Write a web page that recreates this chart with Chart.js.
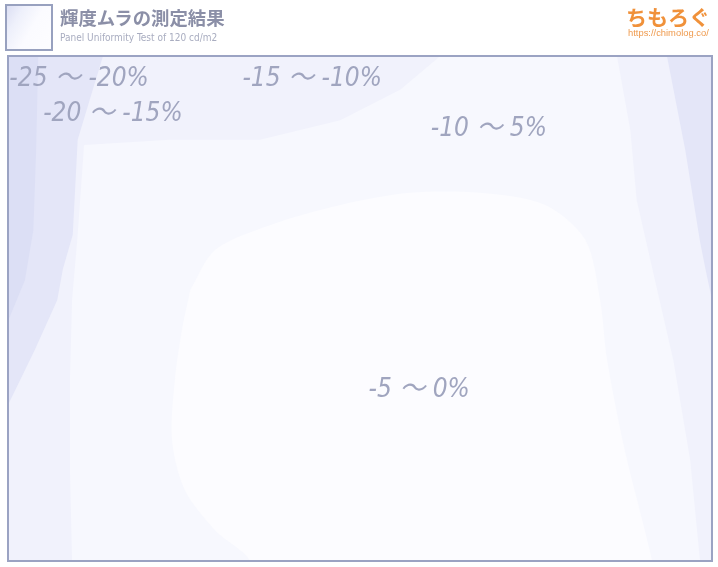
<!DOCTYPE html>
<html>
<head>
<meta charset="utf-8">
<script src="https://cdn.jsdelivr.net/npm/chart.js@4.4.1/dist/chart.umd.min.js"></script>
<style>
  html,body{margin:0;padding:0;background:#fff;}
  #wrap{position:relative;width:718px;height:567px;overflow:hidden;}
  #cv{position:absolute;left:0;top:0;}
  #icon{position:absolute;left:5px;top:4px;width:44px;height:43px;border:2px solid #98a1bf;
    background:linear-gradient(120deg,#dcdff3 0%,#eef0fb 25%,#fbfbff 55%,#fdfdff 100%);}
  #title{position:absolute;left:60px;top:5px;font-family:"Noto Sans CJK JP","Noto Sans",sans-serif;
    font-weight:bold;font-size:18.4px;color:#8b8fa7;line-height:24px;}
  #sub{position:absolute;left:60px;top:31px;font-family:"Liberation Sans Narrow","DejaVu Sans Condensed",sans-serif;
    font-size:10px;color:#a9adc0;line-height:14px;}
  #logo{position:absolute;left:626px;top:3px;font-family:"Noto Sans CJK JP",sans-serif;font-weight:bold;
    font-size:21px;color:#f0913a;line-height:26px;}
  #url{position:absolute;left:628px;top:28px;font-family:"Liberation Sans","DejaVu Sans",sans-serif;
    font-size:9.4px;color:#ef9a4d;line-height:10px;}
</style>
</head>
<body>
<div id="wrap">
  <canvas id="cv" width="718" height="567"></canvas>
  <div id="icon"></div>
  <div id="title">輝度ムラの測定結果</div>
  <div id="sub">Panel Uniformity Test of 120 cd/m2</div>
  <div id="logo">ちもろぐ</div>
  <div id="url">https://chimolog.co/</div>
</div>
<script>
// Contour regions of luminance deviation, in percent of panel width (x) and height (y, top = 0)
const levelNames = ["-25 ～ -20%", "-20 ～ -15%", "-15 ～ -10%", "-10 ～ 5%", "-5 ～ 0%"];
const levelColors = ["#dcdff5", "#e4e6f8", "#f1f2fc", "#f7f8fe", "#fcfcff"];

const regionBase = [[0,0],[100,0],[100,100],[0,100],[0,0]]; // -15 ~ -10%
const regionLow10 = [[10.8,17.6],[23.0,16.6],[35.8,16.6],[47.2,12.7],[55.7,6.7],[61.4,0],[86.5,0],[88.4,14.7],
  [89.3,28.5],[91.9,44.4],[94.5,60.2],[96.9,80.0],[98.3,100],[9.1,100],[8.8,82.0],[8.8,64.2],[9.1,48.3],
  [9.9,35.4],[10.8,17.6]]; // -10 ~ -5%
const regionLow5 = [[25.9,46.3],[29.4,38.4],[37.2,33.5],[47.2,29.5],[57.1,27.1],[67.0,27.1],[76.3,29.5],
  [82.0,36.4],[84.1,48.3],[85.1,60.2],[87.6,78.0],[91.5,100],[92.0,106],[34.0,106],[34.4,100],[29.4,93.9],
  [25.1,85.9],[23.3,76.0],[23.7,64.2],[24.7,54.3],[25.9,46.3]]; // -5 ~ 0%
const regionLeft20 = [[0,0],[13.5,0],[11.6,8.7],[9.9,16.6],[9.2,35.4],[7.8,42.2],[7.0,48.3],[3.8,58.2],
  [0,69.1],[0,0]]; // -20 ~ -15%
const regionRight20 = [[93.6,0],[100,0],[100,48.3],[99.1,42.4],[98.3,36.8],[96.2,18.6],[93.6,0]]; // -20 ~ -15%
const regionLeft25 = [[0,0],[4.3,0],[4.0,18.6],[3.6,34.5],[2.4,44.4],[0,52.5],[0,0]]; // -25 ~ -20%

const labelPoints = [[10.1,4.6],[14.9,11.5],[43.2,4.6],[68.3,14.5],[58.4,66.1]];
const labelTexts = ["-25 ～ -20%", "-20 ～ -15%", "-15 ～ -10%", "-10 ～ 5%", "-5 ～ 0%"];

function toPts(arr){ return arr.map(p => ({x:p[0], y:p[1]})); }
function region(arr, color, order, tension){
  return {type:'line', data: toPts(arr), backgroundColor: color, borderColor: 'rgba(0,0,0,0)',
    borderWidth: 0, pointRadius: 0, fill: 'shape', tension: tension || 0, order: order};
}

const overlay = {
  id: 'overlay',
  afterDatasetsDraw(chart){
    const ctx = chart.ctx, xs = chart.scales.x, ys = chart.scales.y, a = chart.chartArea;
    ctx.save();
    ctx.font = 'italic 26px "Liberation Sans Narrow","DejaVu Sans Condensed","Noto Sans CJK JP",sans-serif';
    ctx.fillStyle = '#a0a5bf';
    ctx.textAlign = 'center';
    ctx.textBaseline = 'middle';
    labelTexts.forEach((t,i) => {
      ctx.fillText(t, xs.getPixelForValue(labelPoints[i][0]), ys.getPixelForValue(labelPoints[i][1]));
    });
    ctx.strokeStyle = '#9ba3c3';
    ctx.lineWidth = 2;
    ctx.strokeRect(a.left, a.top, a.right - a.left, a.bottom - a.top);
    ctx.restore();
  }
};

// Chart.js draws higher "order" first, so the base layer gets the highest order
new Chart(document.getElementById('cv'), {
  type: 'line',
  data: {
    datasets: [
      region(regionBase, levelColors[2], 6),
      region(regionLow10, levelColors[3], 5),
      region(regionLow5, levelColors[4], 4, 0.3),
      region(regionLeft20, levelColors[1], 3),
      region(regionRight20, levelColors[1], 2),
      region(regionLeft25, levelColors[0], 1)
    ]
  },
  options: {
    responsive: false,
    animation: false,
    layout: {padding: {left: 8, top: 56, right: 6, bottom: 6}},
    scales: {
      x: {type: 'linear', min: 0, max: 100, display: false},
      y: {type: 'linear', min: 0, max: 100, reverse: true, display: false}
    },
    plugins: {legend: {display: false}, tooltip: {enabled: false}, title: {display: false}}
  },
  plugins: [overlay]
});
</script>
</body>
</html>
